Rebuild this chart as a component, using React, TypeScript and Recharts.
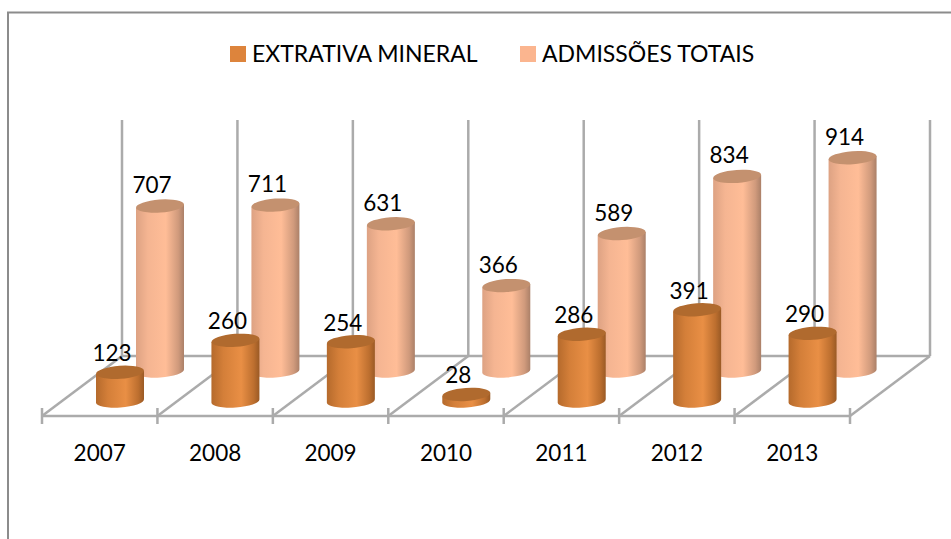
// App.tsx - 3D style cylinder columns, admissions per year
import { Bar, BarChart, Customized, LabelList, XAxis, YAxis } from 'recharts';

const YEARS = ['2007', '2008', '2009', '2010', '2011', '2012', '2013'];
const EXTRATIVA = [123, 260, 254, 28, 286, 391, 290];
const ADMISSOES = [707, 711, 631, 366, 589, 834, 914];

const SERIES_NAMES = ['EXTRATIVA MINERAL', 'ADMISSÕES TOTAIS'];
const SWATCHES = ['#DD843C', '#FBB58F'];

const FONT = 'Lato, Carlito, sans-serif';
const WIDTH = 951;
const HEIGHT = 539;
const AXIS_HEIGHT = 123;
const BAR_SIZE = 48;
const MARGIN = { top: 136, right: 101, bottom: 0, left: 42 };
const GRID = '#ababab';

// depth shift of each row on the floor
const FRONT_SHIFT = { dx: 20, dy: -15 };
const BACK_SHIFT = { dx: 60, dy: -45 };

const data = YEARS.map((year, i) => ({
  year,
  extrativa: EXTRATIVA[i],
  admissoes: ADMISSOES[i],
}));

function cylinder(shift: { dx: number; dy: number }, fill: string, cap: string) {
  return function Cylinder(props: any) {
    const { x, y, width, height } = props;
    const rx = width / 2;
    const ry = 6.5;
    const cx = x + rx + shift.dx;
    const top = y + shift.dy;
    const bottom = y + height + shift.dy;
    const left = cx - rx;
    const right = cx + rx;
    const tilt = -4;
    const dyEdge = rx * Math.sin((tilt * Math.PI) / 180);
    return (
      <g>
        <path
          d={`M${left},${top - dyEdge} L${left},${bottom - dyEdge} A${rx},${ry} ${tilt} 0 0 ${right},${bottom + dyEdge} L${right},${top + dyEdge} Z`}
          fill={`url(#${fill})`}
        />
        <ellipse cx={cx} cy={top} rx={rx} ry={ry} fill={cap} transform={`rotate(${tilt} ${cx} ${top})`} />
      </g>
    );
  };
}

function valueLabel(shift: { dx: number; dy: number }, nudge: number) {
  return function ValueLabel(props: any) {
    const { x, y, width, value } = props;
    return (
      <text
        x={x + width / 2 + shift.dx - 8}
        y={y + shift.dy - nudge}
        textAnchor="middle"
        fontFamily={FONT}
        fontSize={22.5}
        fill="#000"
      >
        {value}
      </text>
    );
  };
}

// Frame, floor and walls of the fake 3D box
function Backdrop() {
  const plotW = WIDTH - MARGIN.left - MARGIN.right;
  const band = plotW / YEARS.length;
  const floorFront = HEIGHT - AXIS_HEIGHT;
  const floorBack = floorFront - 60;
  const depth = 80;
  const stops = Array.from({ length: YEARS.length + 1 }, (_, i) => MARGIN.left + band * i);
  return (
    <g>
      <path d={`M8,539 L8,12.5 L951,12.5`} fill="none" stroke="#8c8c8c" strokeWidth={2} />
      {stops.map((sx) => (
        <g key={sx} stroke={GRID} strokeWidth={2.5} fill="none">
          <line x1={sx + depth} y1={120} x2={sx + depth} y2={floorBack} />
          <line x1={sx} y1={floorFront} x2={sx + depth} y2={floorBack} />
          <line x1={sx} y1={floorFront - 8} x2={sx} y2={floorFront + 8} />
        </g>
      ))}
      <line x1={MARGIN.left + depth} y1={floorBack} x2={WIDTH - MARGIN.right + depth} y2={floorBack} stroke={GRID} strokeWidth={2.5} />
      <line x1={MARGIN.left} y1={floorFront} x2={WIDTH - MARGIN.right} y2={floorFront} stroke={GRID} strokeWidth={2.5} />
    </g>
  );
}

function LegendRow() {
  const swatchX = [230, 520];
  return (
    <g>
      {SERIES_NAMES.map((name, i) => (
        <g key={name}>
          <rect x={swatchX[i]} y={46} width={16} height={16} fill={SWATCHES[i]} />
          <text x={swatchX[i] + 22} y={62} fontFamily={FONT} fontSize={23} fill="#000">
            {name}
          </text>
        </g>
      ))}
    </g>
  );
}

export default function App() {
  return (
    <div style={{ position: 'absolute', left: 0, top: 0, background: '#fff' }}>
      <BarChart width={WIDTH} height={HEIGHT} data={data} margin={MARGIN} barSize={BAR_SIZE} barGap={-BAR_SIZE}>
        <defs>
          <linearGradient id="cylFront" x1="0" y1="0" x2="1" y2="0">
            <stop offset="0%" stopColor="#B56A2C" />
            <stop offset="25%" stopColor="#D47F39" />
            <stop offset="62%" stopColor="#E98F45" />
            <stop offset="88%" stopColor="#BD6F2F" />
            <stop offset="100%" stopColor="#9A5A25" />
          </linearGradient>
          <linearGradient id="cylBack" x1="0" y1="0" x2="1" y2="0">
            <stop offset="0%" stopColor="#DDA283" />
            <stop offset="25%" stopColor="#F5B592" />
            <stop offset="62%" stopColor="#FFBD97" />
            <stop offset="88%" stopColor="#D09A7C" />
            <stop offset="100%" stopColor="#AB8068" />
          </linearGradient>
        </defs>
        <Customized component={Backdrop} />
        <Customized component={LegendRow} />
        <XAxis
          dataKey="year"
          axisLine={false}
          tickLine={false}
          interval={0}
          height={AXIS_HEIGHT}
          tick={{ fontFamily: FONT, fontSize: 22.5, fill: '#000' }}
          tickMargin={23}
        />
        <YAxis hide domain={[0, 1200]} />
        <Bar
          dataKey="admissoes"
          isAnimationActive={false}
          shape={cylinder(BACK_SHIFT, 'cylBack', '#C4916F')}
        >
          <LabelList dataKey="admissoes" content={valueLabel(BACK_SHIFT, 13)} />
        </Bar>
        <Bar
          dataKey="extrativa"
          isAnimationActive={false}
          shape={cylinder(FRONT_SHIFT, 'cylFront', '#B06A2E')}
        >
          <LabelList dataKey="extrativa" content={valueLabel(FRONT_SHIFT, 11)} />
        </Bar>
      </BarChart>
    </div>
  );
}
